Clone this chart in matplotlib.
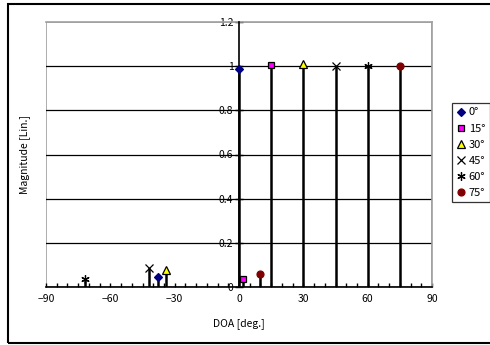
import matplotlib
matplotlib.use("Agg")
import matplotlib.pyplot as plt
from matplotlib.patches import Rectangle
from matplotlib.ticker import MultipleLocator

plt.rcParams['font.family'] = ['Noto Sans CJK JP', 'DejaVu Sans']

# Data: each series = (main peak position, main magnitude, sidelobe position, sidelobe magnitude)
labels = ["0°", "15°", "30°", "45°", "60°", "75°"]
doa_x = [[0, -38], [15, 2], [30, -34], [45, -42], [60, -72], [75, 10]]
mag_y = [[0.985, 0.045], [1.005, 0.035], [1.01, 0.075], [1.0, 0.088], [1.0, 0.038], [1.0, 0.06]]
x_ticks = [-90, -60, -30, 0, 30, 60, 90]
x_tick_labels = ["−90", "−60", "−30", "0", "30", "60", "90"]
y_ticks = [0, 0.2, 0.4, 0.6, 0.8, 1.0, 1.2]
y_tick_labels = ["0", "0.2", "0.4", "0.6", "0.8", "1", "1.2"]

markers = ["D", "s", "^", "x", (6, 2, 0), "o"]
faces = ["#000080", "#FF00FF", "#FFFF00", "black", "black", "#800000"]
edges = ["#000080", "black", "black", "black", "black", "#800000"]
msizes = [4, 5, 5.5, 6, 6, 5]

fig = plt.figure(figsize=(4.9, 3.45), dpi=100)
W, H = 490, 345
ax = fig.add_axes([46 / W, 1 - 287 / H, (432 - 46) / W, (287 - 22) / H])

# outer border
fig.patches.append(Rectangle((8 / W, 1 - 343 / H), 1.0, (343 - 4) / H, transform=fig.transFigure,
                             fill=False, edgecolor="black", linewidth=1.5, zorder=0))

ax.set_xlim(-90, 90)
ax.set_ylim(0, 1.2)

for yv in y_ticks[1:-1]:
    ax.axhline(yv, color="black", linewidth=0.9, zorder=1)

for i in range(len(labels)):
    xs, ys = doa_x[i], mag_y[i]
    ax.vlines(xs, 0, ys, color="black", linewidth=1.8, zorder=3)
    ax.plot(xs, ys, linestyle="none", marker=markers[i], markersize=msizes[i],
            markerfacecolor=faces[i], markeredgecolor=edges[i], markeredgewidth=0.9,
            color=edges[i], label=labels[i], zorder=4, clip_on=False)

for s in ["top", "right"]:
    ax.spines[s].set_color("#a0a0a0")
    ax.spines[s].set_linewidth(1.2)
ax.spines["bottom"].set_color("black")
ax.spines["bottom"].set_linewidth(1.2)
ax.spines["left"].set_position(("data", 0))
ax.spines["left"].set_color("black")
ax.spines["left"].set_linewidth(1.2)
ax.spines["left"].set_zorder(3)
ax.add_patch(Rectangle((0, 0), 1, 1, transform=ax.transAxes, fill=False,
                       edgecolor="#a0a0a0", linewidth=1.2, zorder=0))

ax.set_xticks(x_ticks)
ax.set_xticklabels(x_tick_labels)
ax.xaxis.set_minor_locator(MultipleLocator(5))
ax.tick_params(axis="x", which="both", direction="in", length=3, width=1, labelsize=7.5, pad=5)
ax.set_yticks(y_ticks)
ax.set_yticklabels(y_tick_labels)
ax.tick_params(axis="y", direction="inout", length=6, width=1, labelsize=7.5, pad=1)

ax.set_xlabel("DOA [deg.]", fontsize=7.5, labelpad=10)
fig.text(25 / W, 1 - 155 / H, "Magnitude [Lin.]", rotation=90, ha="center", va="center", fontsize=7.5)

leg = fig.legend(loc="upper left", bbox_to_anchor=(452 / W, 1 - 103 / H), fontsize=8,
                 frameon=True, fancybox=False, edgecolor="black", handlelength=0.8,
                 handletextpad=0.3, borderpad=0.4, labelspacing=0.55, borderaxespad=0)
leg.get_frame().set_linewidth(0.9)

fig.savefig("out.png", dpi=100)
